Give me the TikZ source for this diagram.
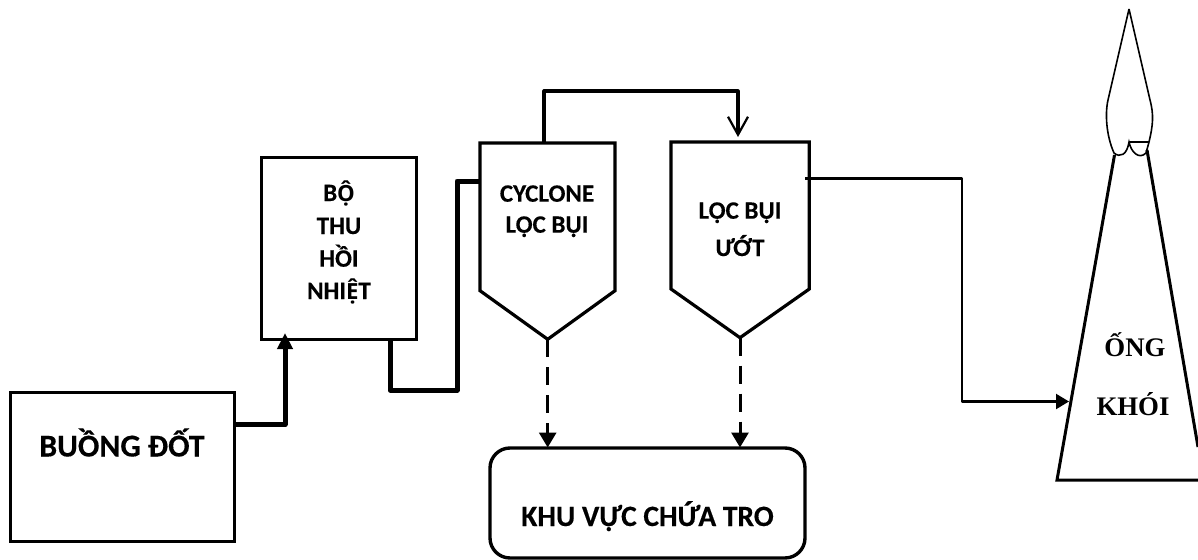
\documentclass[tikz,border=0pt]{standalone}
\usepackage{fontspec}
\setmainfont{Carlito}[BoldFeatures={FakeBold=0.3}]
\newfontfamily\serifb{Liberation Serif}
\newfontfamily\accfont{Open Sans}[Scale=0.89]
\usetikzlibrary{arrows.meta,calc}
\tikzset{
  box/.style={draw,line width=3pt,rectangle,inner sep=0pt,outer sep=0pt},
  hopper/.style={draw,line width=3.2pt,line join=miter},
  lbl/.style={anchor=base,inner sep=0pt,font=\bfseries\fontsize{25}{28}\selectfont},
  lblbig/.style={anchor=base,inner sep=0pt,font=\bfseries\fontsize{31.8}{34}\selectfont},
  lbltro/.style={anchor=base,inner sep=0pt,font=\bfseries\fontsize{29.5}{32}\selectfont},
  lblser/.style={anchor=base,inner sep=0pt,font=\serifb\bfseries\fontsize{26.8}{30}\selectfont},
  heavy/.style={line width=5pt,line join=round},
  medium/.style={line width=3.2pt,line join=round},
  thinflow/.style={line width=2.2pt,line join=round},
  drop/.style={line width=3pt,dash pattern=on 18pt off 10pt,-{Triangle[length=15pt,width=17pt]}},
  flame/.style={line width=1.6pt},
  stack/.style={line width=3pt,line join=miter}
}
\begin{document}
\begin{tikzpicture}[x=1pt,y=-1pt]
\useasboundingbox (0,0) rectangle (1198,559);
% boxes
\node[box,minimum width=224pt,minimum height=149pt] (buong) at (122,467) {};
\node[box,minimum width=154.5pt,minimum height=182pt] (thu) at (339,248) {};
\node[box,line width=3.4pt,rounded corners=20pt,minimum width=315pt,minimum height=110pt] (tro) at (647.5,503) {};
% hoppers
\coordinate (cTL) at (480,143); \coordinate (cTR) at (615,143);
\coordinate (cBR) at (615,290.7); \coordinate (cTip) at (547.7,339.3); \coordinate (cBL) at (480,290.7);
\draw[hopper] (cTL) -- (cTR) -- (cBR) -- (cTip) -- (cBL) -- cycle;
\coordinate (wTL) at (671,142); \coordinate (wTR) at (809.3,142);
\coordinate (wBR) at (809.3,289); \coordinate (wTip) at (740,337.7); \coordinate (wBL) at (671,289);
\draw[hopper] (wTL) -- (wTR) -- (wBR) -- (wTip) -- (wBL) -- cycle;
% chimney
\coordinate (sTL) at (1114.5,155); \coordinate (sBL) at (1057,480);
\coordinate (sBR) at (1198,480); \coordinate (sTR) at (1147,150); \coordinate (sRE) at (1198,447);
\draw[stack] (sTL) -- (sBL) -- (sBR);
\draw[stack] (sTR) -- (sRE);
% flame
\coordinate (fTop) at (1129,9); \coordinate (fMid) at (1129,142); \coordinate (fR) at (1149,142);
\draw[flame] (fTop) -- (1108,100) .. controls (1105,113) and (1106,135) .. (1114,153)
  .. controls (1120,158) and (1127,155) .. (fMid)
  .. controls (1131,152) and (1139,160) .. (1146,153) -- (fR)
  .. controls (1153,125) and (1154,115) .. (1150,100) -- (fTop);
\draw[line width=2pt] (fMid) -- (fR);
% connectors
\coordinate (a1) at (234,424.5); \coordinate (a2) at (285,424.5); \coordinate (a3) at (285,333);
\draw[heavy,-{Triangle[length=16pt,width=15pt]}] (a1) -- (a2) -- (a3);
\coordinate (b1) at (390,340); \coordinate (b2) at (390,390); \coordinate (b3) at (457,390);
\coordinate (b4) at (457,181); \coordinate (b5) at (480,181);
\draw[heavy] (b1) -- (b2) -- (b3) -- (b4) -- (b5);
\coordinate (d1) at (544,143); \coordinate (d2) at (544,91); \coordinate (d3) at (738,91); \coordinate (d4) at (738,137);
\draw[medium,-{Straight Barb[length=18pt,width=20pt,line width=2.2pt]}] (d1) -- (d2) -- (d3) -- (d4);
\coordinate (e1) at (805,178.5); \coordinate (e2) at (962,178.5); \coordinate (e3) at (962,401.5); \coordinate (e4) at (1069,401.5);
\draw[thinflow,-{Triangle[length=13pt,width=15pt]}] (e1) -- (e2) -- (e3) -- (e4);
\coordinate (t1) at (547.7,447.5); \coordinate (t2) at (740,447.5);
\draw[drop] (cTip) -- (t1);
\draw[drop] (wTip) -- (t2);
% labels
\node[lblbig] (tbuong) at (122,456.5) {BUỒNG ĐỐT};
\node[lbl] (tthu1) at (339,201) {B{\accfont Ộ}};
\node[lbl] (tthu2) at (339,234) {THU};
\node[lbl] (tthu3) at (339,266.7) {HỒI};
\node[lbl] (tthu4) at (339,299) {NHI{\accfont Ệ}T};
\node[lbl] (tcy1) at (547,201.7) {CYCLONE};
\node[lbl] (tcy2) at (547,232.7) {LỌC BỤI};
\node[lbl] (tw1) at (740,218.7) {LỌC BỤI};
\node[lbl] (tw2) at (740,256) {ƯỚT};
\node[lbltro] (ttro) at (647.5,526) {KHU VỰC CHỨA TRO};
\node[lblser] (tong) at (1135,356) {ỐNG};
\node[lblser] (tkhoi) at (1133,415) {KHÓI};
\end{tikzpicture}
\end{document}
